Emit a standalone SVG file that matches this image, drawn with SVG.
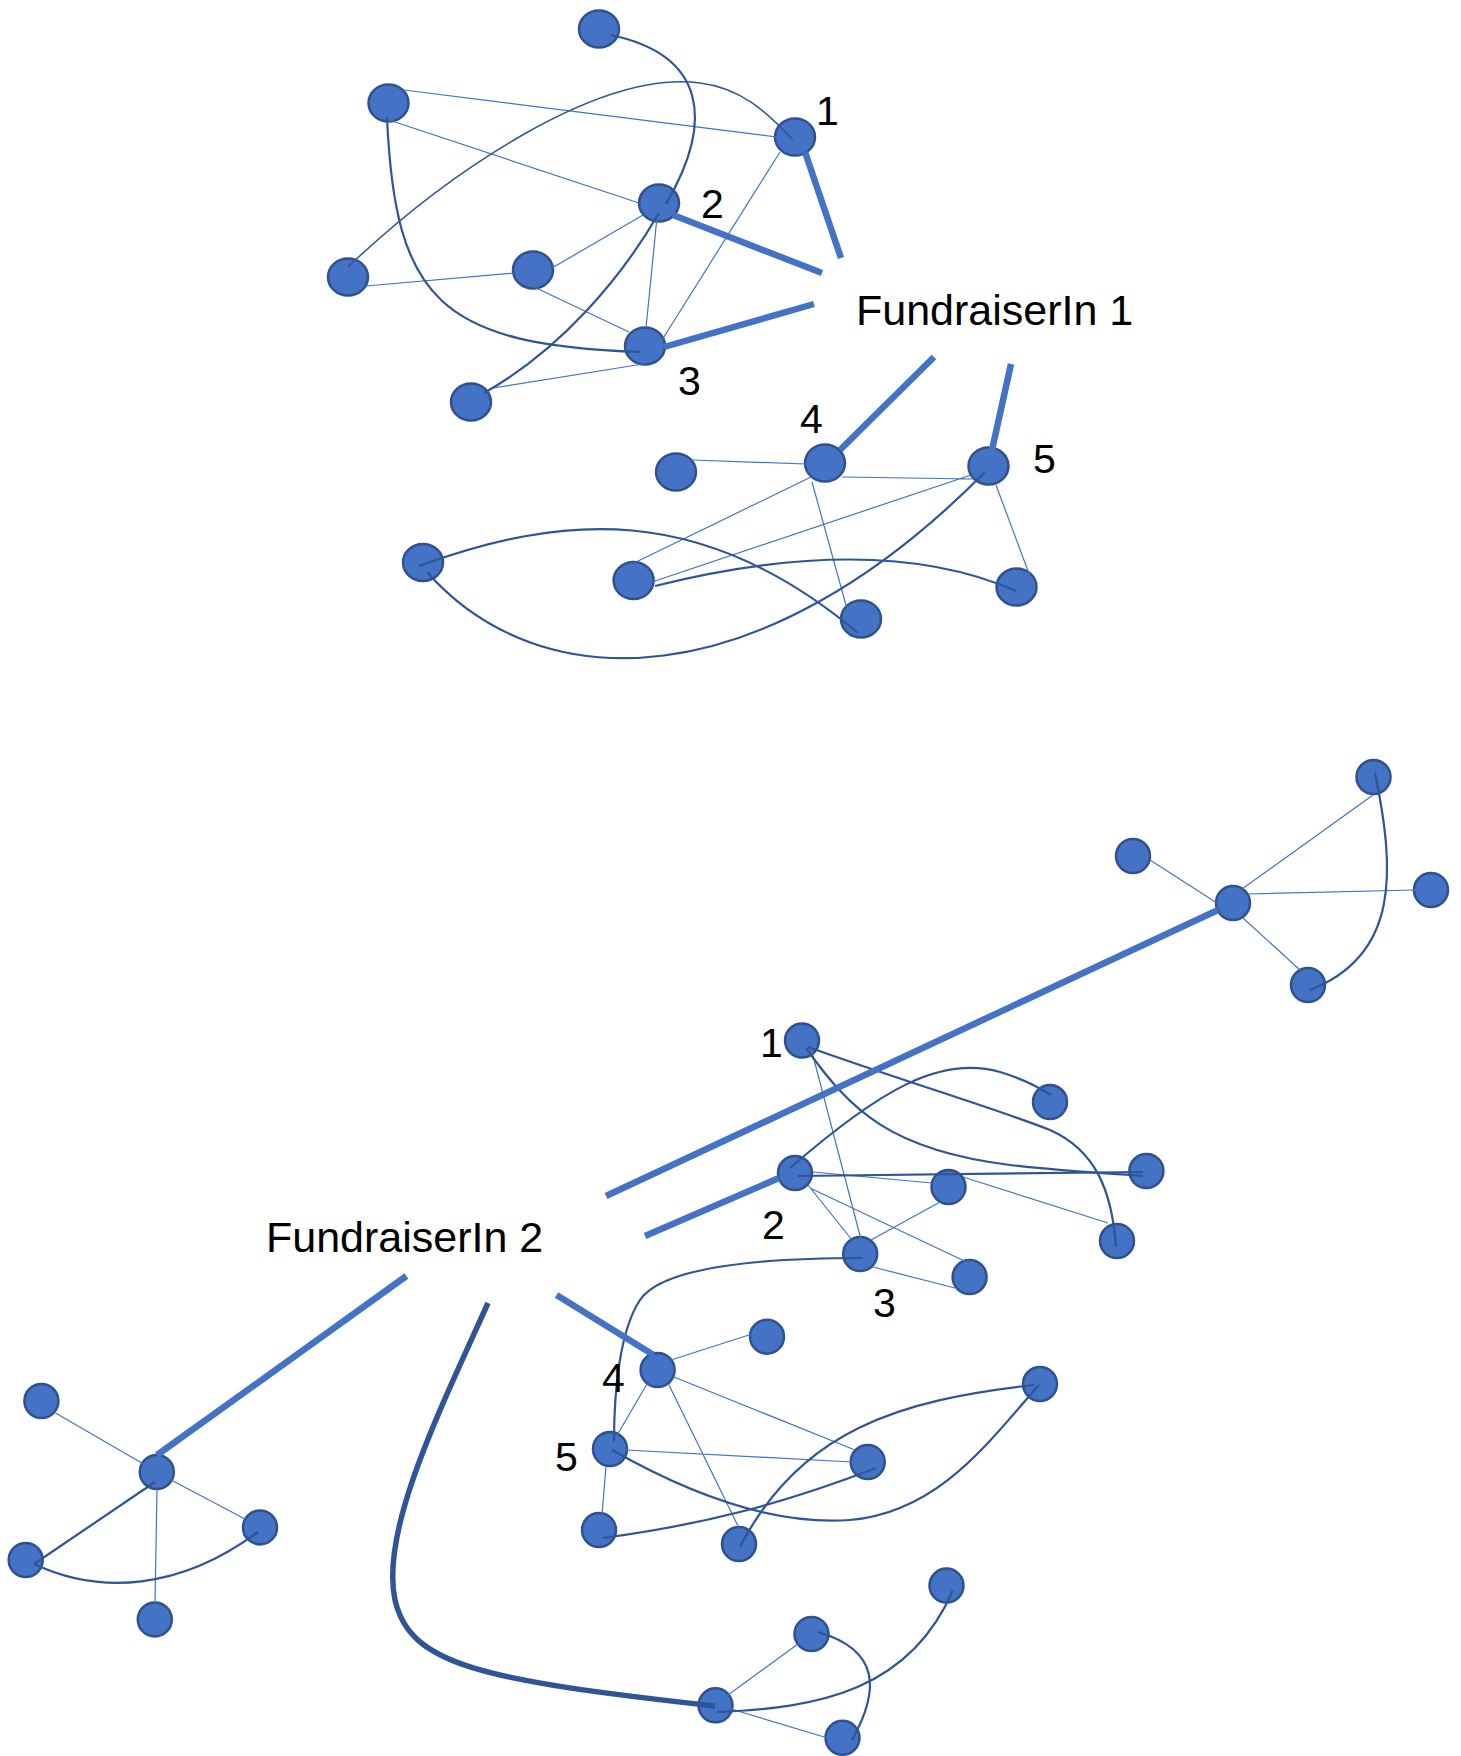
<svg xmlns="http://www.w3.org/2000/svg" width="1461" height="1756" viewBox="0 0 1461 1756">
<style>
.n{fill:#4472C4;stroke:#2F528F;stroke-width:2.5}
.thin{fill:none;stroke:#4472C4;stroke-width:1.2}
.dark{fill:none;stroke:#2F5597;stroke-width:2.2}
.thick{fill:none;stroke:#4472C4;stroke-width:6.5}
.big{fill:none;stroke:#2F5597;stroke-width:5.5}
.t{font-family:"Liberation Sans",Arial,sans-serif;fill:#000}
.lbl{font-size:43px}
.num{font-size:41px}
</style>
<rect width="1461" height="1756" fill="#fff"/>
<g id="nodes">
<g id="top-T"><ellipse class="n" cx="599" cy="29" rx="20" ry="18.5"/></g>
<g id="top-A"><ellipse class="n" cx="388.5" cy="103" rx="20" ry="18.5"/></g>
<g id="top-1"><ellipse class="n" cx="795" cy="137" rx="20" ry="18.5"/></g>
<g id="top-2"><ellipse class="n" cx="659" cy="203" rx="20" ry="18.5"/></g>
<g id="top-LM"><ellipse class="n" cx="348" cy="277" rx="20" ry="18.5"/></g>
<g id="top-M"><ellipse class="n" cx="533" cy="270" rx="20" ry="18.5"/></g>
<g id="top-3"><ellipse class="n" cx="645" cy="346" rx="20" ry="18.5"/></g>
<g id="top-BL"><ellipse class="n" cx="471" cy="402" rx="20" ry="18.5"/></g>
<g id="top-4"><ellipse class="n" cx="825" cy="463" rx="20" ry="18.5"/></g>
<g id="top-5"><ellipse class="n" cx="988.5" cy="466" rx="20" ry="18.5"/></g>
<g id="top-P"><ellipse class="n" cx="676" cy="472" rx="20" ry="18.5"/></g>
<g id="top-Q"><ellipse class="n" cx="423" cy="562.5" rx="20" ry="18.5"/></g>
<g id="top-R"><ellipse class="n" cx="633.6" cy="580.5" rx="20" ry="18.5"/></g>
<g id="top-S"><ellipse class="n" cx="861" cy="619" rx="20" ry="18.5"/></g>
<g id="top-U"><ellipse class="n" cx="1016.5" cy="587" rx="20" ry="18.5"/></g>
<g id="r-C"><circle class="n" cx="1233" cy="903" r="17"/></g>
<g id="r-T"><circle class="n" cx="1373.5" cy="777" r="17"/></g>
<g id="r-L"><circle class="n" cx="1133" cy="856" r="17"/></g>
<g id="r-R"><circle class="n" cx="1431" cy="890" r="17"/></g>
<g id="r-B"><circle class="n" cx="1308" cy="985" r="17"/></g>
<g id="b-1"><circle class="n" cx="802" cy="1040.5" r="17"/></g>
<g id="b-G"><circle class="n" cx="1050" cy="1102" r="17"/></g>
<g id="b-2"><circle class="n" cx="795" cy="1173" r="17"/></g>
<g id="b-H"><circle class="n" cx="948.5" cy="1187" r="17"/></g>
<g id="b-I"><circle class="n" cx="1146.4" cy="1171" r="17"/></g>
<g id="b-J"><circle class="n" cx="1117" cy="1241" r="17"/></g>
<g id="b-3"><circle class="n" cx="860.2" cy="1254" r="17"/></g>
<g id="b-K"><circle class="n" cx="969.6" cy="1277" r="17"/></g>
<g id="b-4"><circle class="n" cx="657.6" cy="1370" r="17"/></g>
<g id="b-L"><circle class="n" cx="767" cy="1336.7" r="17"/></g>
<g id="b-5"><circle class="n" cx="610" cy="1449" r="17"/></g>
<g id="b-V"><circle class="n" cx="1040" cy="1384" r="17"/></g>
<g id="b-W"><circle class="n" cx="867.7" cy="1462" r="17"/></g>
<g id="b-X"><circle class="n" cx="599" cy="1530" r="17"/></g>
<g id="b-Y"><circle class="n" cx="739" cy="1544" r="17"/></g>
<g id="z-1"><circle class="n" cx="946.5" cy="1585.6" r="17"/></g>
<g id="z-2"><circle class="n" cx="811.5" cy="1634" r="17"/></g>
<g id="z-3"><circle class="n" cx="715.5" cy="1705.3" r="17"/></g>
<g id="z-4"><circle class="n" cx="842.5" cy="1737.8" r="17"/></g>
<g id="l-C"><circle class="n" cx="156.8" cy="1472" r="17"/></g>
<g id="l-1"><circle class="n" cx="41.4" cy="1401" r="17"/></g>
<g id="l-2"><circle class="n" cx="25.7" cy="1560" r="17"/></g>
<g id="l-3"><circle class="n" cx="260" cy="1527.4" r="17"/></g>
<g id="l-4"><circle class="n" cx="154.8" cy="1619.4" r="17"/></g>
<g id="fundraiser1"><text class="t lbl" x="856" y="325">FundraiserIn 1</text></g>
<g id="fundraiser2"><text class="t lbl" x="266" y="1252">FundraiserIn 2</text></g>
</g>
<g id="connectors">
<path class="thin" d="M404,90 L777,137 M389,120 L639,203 M366,286 L514,273 M552,268 L643,215 M534,287 L629,332 M657,217 L646,328 M780,152 L662,340 M643,364 L493,388"/>
<path class="thin" d="M692,460 L806,464 M842,477 L974,479 M811,477 L634,563 M971,475 L652,582 M812,482 L846.5,607 M996,485 L1029.5,575"/>
<path class="thin" d="M1150,860 L1217,903 M1242,889 L1373,795 M1248,894 L1415,890 M1243,918 L1300,970"/>
<path class="thin" d="M811.5,1050 L863,1247 M813,1172 L932,1183 M963,1177 L1108,1223 M808,1185 L852,1240 M810,1188 L966.5,1262 M871,1240 L940,1202 M873,1267 L955,1288"/>
<path class="thin" d="M671,1360 L752,1334 M647,1384 L616,1437 M674,1377 L855,1450 M669,1385 L739,1528 M626,1450 L852,1462 M606,1466 L602,1515"/>
<path class="thin" d="M728,1695 L798,1644 M731,1709 L827.5,1738"/>
<path class="thin" d="M55.5,1413 L143.5,1464 M173,1481 L245,1519 M157,1489 L155,1603"/>
<path class="dark" d="M611,35 C705,55 715,120 666,204"/>
<path class="dark" style="stroke-width:1.5" d="M348,267 C450,170 600,70 700,83 C740,88 765,110 793,140"/>
<path class="dark" d="M387,117 C395,300 440,345 641,352"/>
<path class="dark" d="M659,213 C620,280 560,350 484,393"/>
<path class="dark" d="M419,566 C560,515 700,500 858,633"/>
<path class="dark" d="M427,572 C540,700 760,700 985,472"/>
<path class="dark" d="M655,586 C760,560 900,540 1016,591"/>
<path class="dark" d="M1375,773 C1395,870 1400,955 1310,990"/>
<path class="dark" d="M808,1047 C900,1080 1000,1110 1050,1130 C1095,1150 1112,1190 1116,1247"/>
<path class="dark" d="M806,1048 C850,1110 890,1150 1010,1165 C1070,1172 1120,1174 1143,1176"/>
<path class="dark" d="M790,1168 C880,1090 940,1055 1000,1072 C1020,1078 1040,1088 1051,1095"/>
<path class="dark" d="M798,1176 L1143,1172"/>
<path class="dark" d="M863,1258 C740,1258 660,1270 640,1300 C620,1330 614,1390 614,1442"/>
<path class="dark" d="M612,1450 C700,1500 780,1525 850,1520 C940,1512 990,1440 1039,1385"/>
<path class="dark" d="M603,1538 C700,1525 780,1505 876,1468"/>
<path class="dark" d="M740,1547 C800,1430 900,1400 1034,1385"/>
<path class="dark" d="M717,1712 C820,1708 910,1690 953,1590"/>
<path class="dark" d="M818,1632 C880,1650 880,1690 852,1740"/>
<path class="dark" d="M155,1482 L34,1564"/>
<path class="dark" d="M34,1564 C100,1595 180,1590 258,1532"/>
<path class="thick" d="M805,152 L841,258 M673,215 L822,273 M664,347 L814,304 M840,450 L934,357 M992,450 L1011,364"/>
<path class="thick" d="M1218,910 L606,1196 M779,1178 L645,1236 M653.6,1355 L556.5,1295 M157,1455 L406.4,1276"/>
<path class="big" d="M488,1303 C440,1410 380,1530 395,1600 C410,1665 480,1680 715,1706"/>
</g>
<g id="labels">
<text class="t num" x="816" y="125">1</text>
<text class="t num" x="701" y="218">2</text>
<text class="t num" x="678" y="395">3</text>
<text class="t num" x="800" y="433">4</text>
<text class="t num" x="1033" y="473">5</text>
<text class="t num" x="760" y="1057">1</text>
<text class="t num" x="762" y="1239">2</text>
<text class="t num" x="873" y="1317">3</text>
<text class="t num" x="602" y="1392">4</text>
<text class="t num" x="555" y="1471">5</text>
</g>
</svg>
